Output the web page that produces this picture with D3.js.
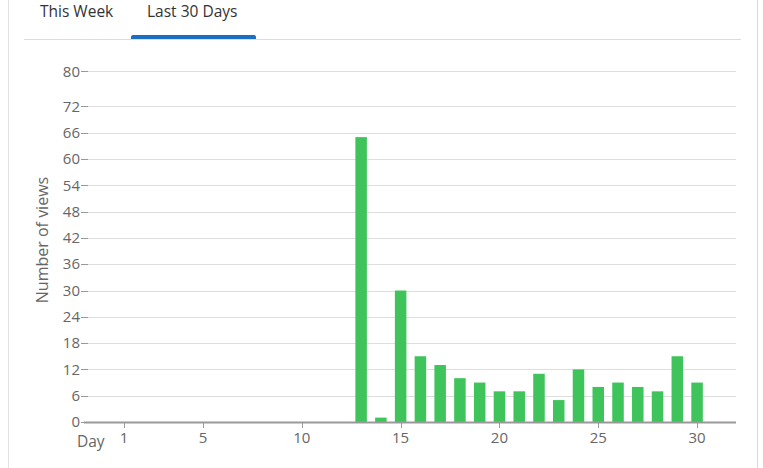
<!DOCTYPE html>
<html>
<head>
<meta charset="utf-8">
<script src="https://cdn.jsdelivr.net/npm/d3@7"></script>
<style>
  body { margin: 0; background: #fff; font-family: "Open Sans", sans-serif; }
</style>
</head>
<body>
<div class="main"></div>
<script>
// data
let tabs = ["This Week", "Last 30 Days"];
let days = d3.range(1, 31);
let views = [0,0,0,0,0,0,0,0,0,0,0,0,65,1,30,15,13,10,9,7,7,11,5,12,8,9,8,7,15,9];
let yTicks = [0,6,12,18,24,30,36,42,48,54,60,66,72,80];
let xTicks = [1,5,10,15,20,25,30];

let width = 763, height = 468;

let svg = d3.select("div.main").append("svg")
  .attr("width", width)
  .attr("height", height);

// panel borders
svg.append("line").attr("x1", 8.5).attr("x2", 8.5).attr("y1", 0).attr("y2", height)
  .attr("stroke", "#e2e2e2");
svg.append("line").attr("x1", 757.5).attr("x2", 757.5).attr("y1", 0).attr("y2", height)
  .attr("stroke", "#d8d8d8");

// tabs
svg.append("line").attr("x1", 24).attr("x2", 741).attr("y1", 39.5).attr("y2", 39.5)
  .attr("stroke", "#dcdcdc");
svg.append("path")
  .attr("d", "M131,39 L131,37 Q131,35 133,35 L254,35 Q256,35 256,37 L256,39 Z")
  .attr("fill", "#1b6ec2");
svg.selectAll("text.tab")
  .data(tabs)
  .enter().append("text")
  .attr("class", "tab")
  .attr("x", (d, i) => i == 0 ? 40 : 147)
  .attr("y", 17)
  .attr("fill", "#333")
  .style("font-size", "15.5px")
  .text(d => d);

// scales
let x = d3.scaleLinear().domain([-0.82, 31.97]).range([88, 736]);
let y = d3.scaleLinear().domain([0, 80]).range([422, 71.4]);

// grid + y axis
let gy = svg.append("g").attr("transform", "translate(88,0)");
gy.selectAll("line.grid")
  .data(yTicks.filter(d => d > 0))
  .enter().append("line")
  .attr("x1", 0).attr("x2", 648)
  .attr("y1", d => Math.round(y(d)) + 0.5).attr("y2", d => Math.round(y(d)) + 0.5)
  .attr("stroke", "#dedede");
gy.selectAll("line.tick")
  .data(yTicks)
  .enter().append("line")
  .attr("x1", -7).attr("x2", 0)
  .attr("y1", d => Math.round(y(d)) + 0.5).attr("y2", d => Math.round(y(d)) + 0.5)
  .attr("stroke", "#999");
gy.selectAll("text")
  .data(yTicks)
  .enter().append("text")
  .attr("x", -8)
  .attr("y", d => y(d))
  .attr("dy", "0.35em")
  .attr("text-anchor", "end")
  .attr("fill", "#666")
  .style("font-size", "15px")
  .text(d => d);

svg.append("text")
  .attr("transform", "translate(48,240) rotate(-90)")
  .attr("text-anchor", "middle")
  .attr("fill", "#666")
  .style("font-size", "16px")
  .text("Number of views");

// bars
let bw = 11.5;
svg.selectAll("rect.bar")
  .data(days.filter((d, i) => views[i] > 0))
  .enter().append("rect")
  .attr("class", "bar")
  .attr("x", d => x(d) - bw / 2)
  .attr("y", d => y(views[d - 1]))
  .attr("width", bw)
  .attr("height", d => y(0) - y(views[d - 1]))
  .attr("fill", "#3ec45a");

// x axis
svg.append("line").attr("x1", 84).attr("x2", 736).attr("y1", 422.5).attr("y2", 422.5)
  .attr("stroke", "#999").attr("stroke-width", 2);
let gx = svg.append("g");
gx.selectAll("line")
  .data(xTicks)
  .enter().append("line")
  .attr("x1", d => Math.round(x(d)) + 0.5).attr("x2", d => Math.round(x(d)) + 0.5)
  .attr("y1", 422).attr("y2", 428)
  .attr("stroke", "#999");
gx.selectAll("text")
  .data(xTicks)
  .enter().append("text")
  .attr("x", d => x(d))
  .attr("y", 443)
  .attr("text-anchor", "middle")
  .attr("fill", "#666")
  .style("font-size", "15px")
  .text(d => d);
svg.append("text")
  .attr("x", 77).attr("y", 447)
  .attr("fill", "#666")
  .style("font-size", "15.5px")
  .text("Day");
</script>
</body>
</html>
